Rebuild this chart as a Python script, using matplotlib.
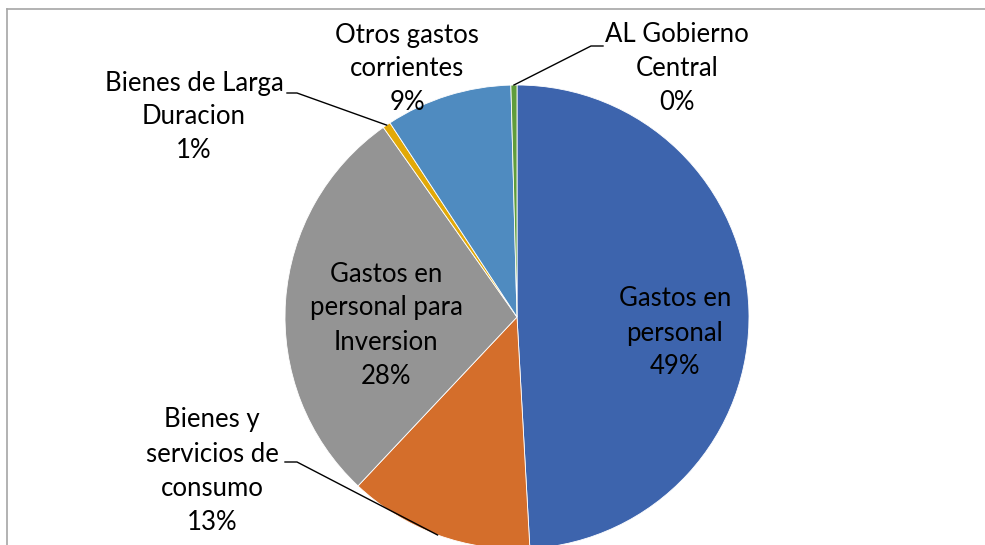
import numpy as np
import matplotlib
matplotlib.use("Agg")
from matplotlib import pyplot as plt
from matplotlib.lines import Line2D

# slices, clockwise from 12 o'clock
categories = ["Gastos en\npersonal", "Bienes y\nservicios de\nconsumo",
              "Gastos en\npersonal para\nInversion", "Bienes de Larga\nDuracion",
              "Otros gastos\ncorrientes", "AL Gobierno\nCentral"]
values = [49.1, 12.9, 28.2, 0.55, 8.8, 0.42]
colors = ["#3D64AD", "#D46E2B", "#949494", "#E2A907", "#4F8BC0", "#609D3B"]

W, H = 985, 545
CX, CY, R = 517, 317, 232   # pie centre / radius in pixels

plt.rcParams['font.family'] = ['Lato', 'DejaVu Sans']

fig = plt.figure(figsize=(W / 100, H / 100), dpi=100)
ax = fig.add_axes([0, 0, 1, 1])

wedges, _ = ax.pie(values, colors=colors, startangle=90, counterclock=False,
                   radius=1, wedgeprops=dict(linewidth=0.6, edgecolor='white'))
ax.set_aspect('auto')
ax.set_xlim(-CX / R, (W - CX) / R)
ax.set_ylim(-(H - CY) / R, CY / R)
ax.axis('off')

total = float(sum(values))
pcts = ["%d%%" % round(v / total * 100) for v in values]


def px(x, y):
    return (x - CX) / R, (CY - y) / R


# label centres in pixels, and leader start (None = no leader)
label_pos = [(675, 333), (212, 471), (386, 325), (194, 117), (407, 69), (677, 69)]
leaders = [None, [(285, 462), (297, 462)], None,
           [(287, 93), (297, 93)], None, [(603, 46), (591, 46)]]

for i, w in enumerate(wedges):
    tx, ty = px(*label_pos[i])
    ax.text(tx, ty, categories[i] + "\n" + pcts[i], ha='center', va='center',
            fontsize=18.5, linespacing=1.45, color='black')
    if leaders[i] is not None:
        mid = np.deg2rad((w.theta1 + w.theta2) / 2.0)
        pts = [px(*p) for p in leaders[i]] + [(np.cos(mid), np.sin(mid))]
        xs, ys = zip(*pts)
        ax.plot(xs, ys, color='black', linewidth=1.0)

# chart area border (Excel style)
fig.add_artist(Line2D([7 / W, 7 / W], [0, 1 - 9 / H], color='#A6A6A6',
                      linewidth=1.2, transform=fig.transFigure))
fig.add_artist(Line2D([7 / W, 1], [1 - 9 / H, 1 - 9 / H], color='#A6A6A6',
                      linewidth=1.2, transform=fig.transFigure))

fig.savefig("out.png", dpi=100)
